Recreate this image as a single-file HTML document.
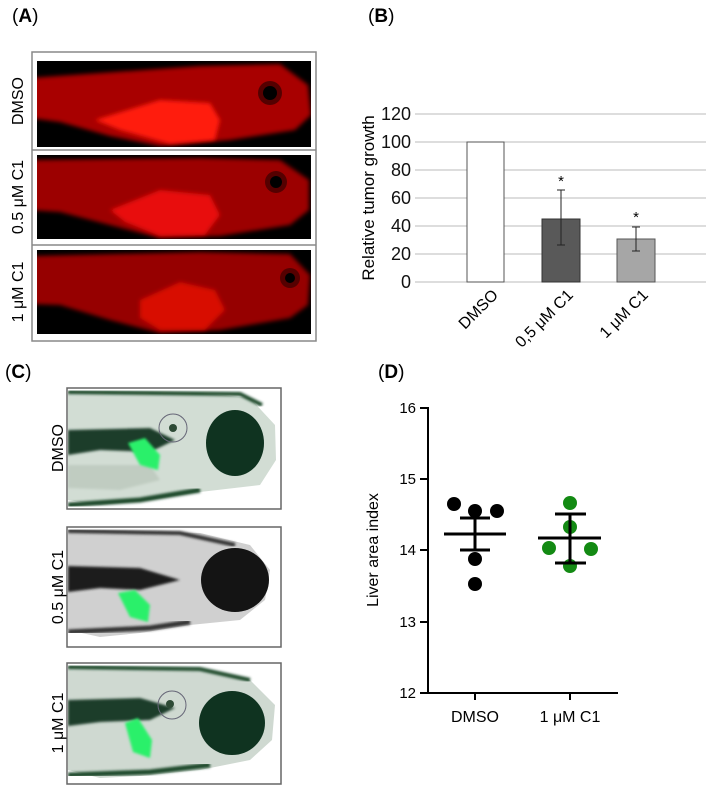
<!DOCTYPE html>
<html><head><meta charset="utf-8"><style>
html,body{margin:0;padding:0;background:#fff;}
svg{display:block;font-family:"Liberation Sans",Arial,sans-serif;}
</style></head><body>
<svg width="718" height="793" viewBox="0 0 718 793" xmlns="http://www.w3.org/2000/svg">
<defs>
<filter id="bl" x="-10%" y="-10%" width="120%" height="120%"><feGaussianBlur stdDeviation="2"/></filter>
<filter id="bl2"><feGaussianBlur stdDeviation="1.2"/></filter>
<clipPath id="cA1"><rect x="37" y="61" width="274" height="86"/></clipPath>
<clipPath id="cA2"><rect x="37" y="155" width="274" height="84"/></clipPath>
<clipPath id="cA3"><rect x="37" y="250" width="274" height="84"/></clipPath>
<clipPath id="cC1"><rect x="68" y="389" width="212" height="119"/></clipPath>
<clipPath id="cC2"><rect x="68" y="528" width="212" height="118"/></clipPath>
<clipPath id="cC3"><rect x="68" y="664" width="212" height="118"/></clipPath>
</defs>

<text x="12" y="22" font-size="19">(<tspan font-weight="bold">A</tspan>)</text>
<text x="368" y="22" font-size="19">(<tspan font-weight="bold">B</tspan>)</text>
<text x="5" y="378" font-size="19">(<tspan font-weight="bold">C</tspan>)</text>
<text x="378" y="378" font-size="19">(<tspan font-weight="bold">D</tspan>)</text>

<!-- Panel A -->
<rect x="32" y="52" width="284" height="289" fill="#fff" stroke="#888" stroke-width="1.5"/>
<line x1="32" y1="150" x2="316" y2="150" stroke="#888" stroke-width="1.5"/>
<line x1="32" y1="245" x2="316" y2="245" stroke="#888" stroke-width="1.5"/>
<g clip-path="url(#cA1)">
<rect x="37" y="61" width="274" height="86" fill="#000"/>
<path d="M30 78 L200 66 L280 64 L308 85 L311 115 L295 130 L230 140 L160 146 L110 136 L60 122 L30 118 Z" fill="#a80000" filter="url(#bl)"/>
<path d="M95 120 L160 100 L210 103 L220 120 L215 140 L170 144 L120 130 Z" fill="#ff1a10" filter="url(#bl)"/>
<circle cx="270" cy="93" r="12" fill="#500"/><circle cx="270" cy="93" r="7" fill="#000"/>
</g>
<g clip-path="url(#cA2)">
<rect x="37" y="155" width="274" height="84" fill="#000"/>
<path d="M30 160 L200 158 L280 160 L309 180 L309 210 L290 225 L220 236 L160 238 L110 225 L60 212 L30 210 Z" fill="#9c0000" filter="url(#bl)"/>
<path d="M110 210 L160 190 L210 195 L220 215 L205 235 L160 236 L125 222 Z" fill="#e81008" filter="url(#bl)"/>
<circle cx="276" cy="182" r="11" fill="#500"/><circle cx="276" cy="182" r="6" fill="#000"/>
</g>
<g clip-path="url(#cA3)">
<rect x="37" y="250" width="274" height="84" fill="#000"/>
<path d="M30 256 L200 252 L290 254 L310 275 L308 305 L290 318 L220 330 L160 333 L110 320 L60 305 L30 304 Z" fill="#960000" filter="url(#bl)"/>
<path d="M140 300 L180 282 L215 290 L225 310 L205 330 L160 330 L140 318 Z" fill="#d80a06" filter="url(#bl)"/>
<circle cx="290" cy="278" r="10" fill="#500"/><circle cx="290" cy="278" r="5" fill="#000"/>
</g>
<text transform="translate(23,101) rotate(-90)" font-size="16" text-anchor="middle">DMSO</text>
<text transform="translate(23,197) rotate(-90)" font-size="16" text-anchor="middle">0.5 μM C1</text>
<text transform="translate(23,292) rotate(-90)" font-size="16" text-anchor="middle">1 μM C1</text>

<!-- Panel B -->
<g stroke="#bbb" stroke-width="1">
<line x1="415" y1="114" x2="706" y2="114"/>
<line x1="415" y1="142" x2="706" y2="142"/>
<line x1="415" y1="170" x2="706" y2="170"/>
<line x1="415" y1="198" x2="706" y2="198"/>
<line x1="415" y1="226" x2="706" y2="226"/>
<line x1="415" y1="254" x2="706" y2="254"/>
<line x1="415" y1="282" x2="706" y2="282"/>
</g>
<g font-size="18" text-anchor="end" fill="#111">
<text x="411" y="120">120</text><text x="411" y="148">100</text><text x="411" y="176">80</text>
<text x="411" y="204">60</text><text x="411" y="232">40</text><text x="411" y="260">20</text><text x="411" y="288">0</text>
</g>
<text transform="translate(374,198) rotate(-90)" font-size="17" text-anchor="middle">Relative tumor growth</text>
<rect x="467" y="142" width="37" height="140" fill="#fff" stroke="#555" stroke-width="1"/>
<rect x="542" y="219" width="38" height="63" fill="#595959" stroke="#333" stroke-width="1"/>
<rect x="617" y="239" width="38" height="43" fill="#a6a6a6" stroke="#555" stroke-width="1"/>
<g stroke="#222" stroke-width="1">
<line x1="561" y1="190" x2="561" y2="245"/><line x1="557" y1="190" x2="565" y2="190"/><line x1="557" y1="245" x2="565" y2="245"/>
<line x1="636" y1="227" x2="636" y2="251"/><line x1="632" y1="227" x2="640" y2="227"/><line x1="632" y1="251" x2="640" y2="251"/>
</g>
<text x="561" y="190" font-size="15" text-anchor="middle" dy="-4">*</text>
<text x="636" y="226" font-size="15" text-anchor="middle" dy="-4">*</text>
<g font-size="16" text-anchor="end">
<text transform="translate(499,296) rotate(-45)">DMSO</text>
<text transform="translate(574,296) rotate(-45)">0,5 μM C1</text>
<text transform="translate(649,296) rotate(-45)">1 μM C1</text>
</g>

<!-- Panel C -->
<g>
<rect x="67" y="388" width="214" height="121" fill="#fff" stroke="#666" stroke-width="1.5"/>
<g clip-path="url(#cC1)">
<path d="M68 392 L200 393 L250 398 L275 425 L276 460 L260 485 L200 492 L150 500 L100 505 L68 500 Z" fill="#d2ddd4"/>
<path d="M68 392 L240 394 L262 405" fill="none" stroke="#1f4a2c" stroke-width="4" filter="url(#bl2)"/>
<path d="M68 505 L140 500 L200 490" fill="none" stroke="#1f4a2c" stroke-width="5" filter="url(#bl2)"/>
<path d="M68 430 L150 428 L175 440 L150 452 L100 450 L68 455 Z" fill="#1f3d2a" filter="url(#bl2)"/>
<path d="M68 465 L150 465 L160 480 L120 490 L68 488 Z" fill="#c0ccc1" filter="url(#bl2)"/>
<ellipse cx="235" cy="443" rx="29" ry="33" fill="#0f3320"/>
<circle cx="173" cy="428" r="14" fill="none" stroke="#667" stroke-width="1"/>
<circle cx="173" cy="428" r="4" fill="#2d4a35"/>
<path d="M128 443 L145 438 L160 455 L158 470 L140 465 Z" fill="#2cf06a" filter="url(#bl2)"/>
</g>
</g>
<g>
<rect x="67" y="527" width="214" height="120" fill="#fff" stroke="#666" stroke-width="1.5"/>
<g clip-path="url(#cC2)">
<path d="M68 530 L200 533 L250 545 L270 570 L265 600 L240 620 L190 625 L140 633 L100 637 L68 630 Z" fill="#d0d0d0"/>
<path d="M68 531 L180 533 L235 545" fill="none" stroke="#333" stroke-width="4" filter="url(#bl2)"/>
<path d="M68 566 L140 568 L180 580 L140 590 L100 588 L68 592 Z" fill="#1e1e1e" filter="url(#bl2)"/>
<ellipse cx="235" cy="580" rx="34" ry="32" fill="#141414"/>
<path d="M68 632 L150 628 L190 622" fill="none" stroke="#333" stroke-width="5" filter="url(#bl2)"/>
<path d="M118 593 L135 590 L150 605 L148 622 L130 617 Z" fill="#2cf06a" filter="url(#bl2)"/>
</g>
</g>
<g>
<rect x="67" y="663" width="214" height="121" fill="#fff" stroke="#666" stroke-width="1.5"/>
<g clip-path="url(#cC3)">
<path d="M68 667 L200 670 L250 680 L275 705 L272 740 L250 760 L200 770 L140 776 L100 778 L68 770 Z" fill="#cfd9d1"/>
<path d="M68 667 L200 669 L250 680" fill="none" stroke="#1f4a2c" stroke-width="4" filter="url(#bl2)"/>
<path d="M68 700 L140 698 L175 708 L150 720 L100 722 L68 726 Z" fill="#1f3d2a" filter="url(#bl2)"/>
<path d="M68 775 L150 772 L210 765" fill="none" stroke="#1f4a2c" stroke-width="5" filter="url(#bl2)"/>
<ellipse cx="232" cy="723" rx="33" ry="32" fill="#0f3320"/>
<circle cx="172" cy="705" r="14" fill="none" stroke="#667" stroke-width="1"/>
<circle cx="170" cy="704" r="4" fill="#2d4a35"/>
<path d="M125 723 L138 718 L152 740 L150 758 L133 752 Z" fill="#2cf06a" filter="url(#bl2)"/>
</g>
</g>
<text transform="translate(63,448) rotate(-90)" font-size="16" text-anchor="middle">DMSO</text>
<text transform="translate(63,587) rotate(-90)" font-size="16" text-anchor="middle">0.5 μM C1</text>
<text transform="translate(63,723) rotate(-90)" font-size="16" text-anchor="middle">1 μM C1</text>

<!-- Panel D -->
<g stroke="#000" stroke-width="2" fill="none">
<line x1="428" y1="407" x2="428" y2="693"/>
<line x1="427" y1="693" x2="618" y2="693"/>
<line x1="420" y1="408" x2="428" y2="408"/>
<line x1="420" y1="479" x2="428" y2="479"/>
<line x1="420" y1="550" x2="428" y2="550"/>
<line x1="420" y1="622" x2="428" y2="622"/>
<line x1="420" y1="693" x2="428" y2="693"/>
<line x1="475" y1="693" x2="475" y2="700"/>
<line x1="570" y1="693" x2="570" y2="700"/>
</g>
<g font-size="15" text-anchor="end">
<text x="416" y="413">16</text><text x="416" y="484">15</text><text x="416" y="555">14</text>
<text x="416" y="627">13</text><text x="416" y="698">12</text>
</g>
<text transform="translate(378,550) rotate(-90)" font-size="16" text-anchor="middle">Liver area index</text>
<g font-size="16" text-anchor="middle">
<text x="475" y="722">DMSO</text><text x="570" y="722">1 μM C1</text>
</g>
<g fill="#000">
<circle cx="454" cy="504" r="7"/><circle cx="475" cy="511" r="7"/><circle cx="497" cy="511" r="7"/>
<circle cx="475" cy="559" r="7"/><circle cx="475" cy="584" r="7"/>
</g>
<g fill="#138a13">
<circle cx="570" cy="503" r="7"/><circle cx="570" cy="527" r="7"/><circle cx="549" cy="548" r="7"/>
<circle cx="591" cy="549" r="7"/><circle cx="570" cy="566" r="7"/>
</g>
<g stroke="#000" stroke-width="3">
<line x1="444" y1="534" x2="506" y2="534"/>
<line x1="475" y1="518" x2="475" y2="550"/>
<line x1="460" y1="518" x2="490" y2="518"/><line x1="460" y1="550" x2="490" y2="550"/>
<line x1="538" y1="538" x2="601" y2="538"/>
<line x1="570" y1="514" x2="570" y2="563"/>
<line x1="555" y1="514" x2="586" y2="514"/><line x1="555" y1="563" x2="586" y2="563"/>
</g>
</svg>
</body></html>
